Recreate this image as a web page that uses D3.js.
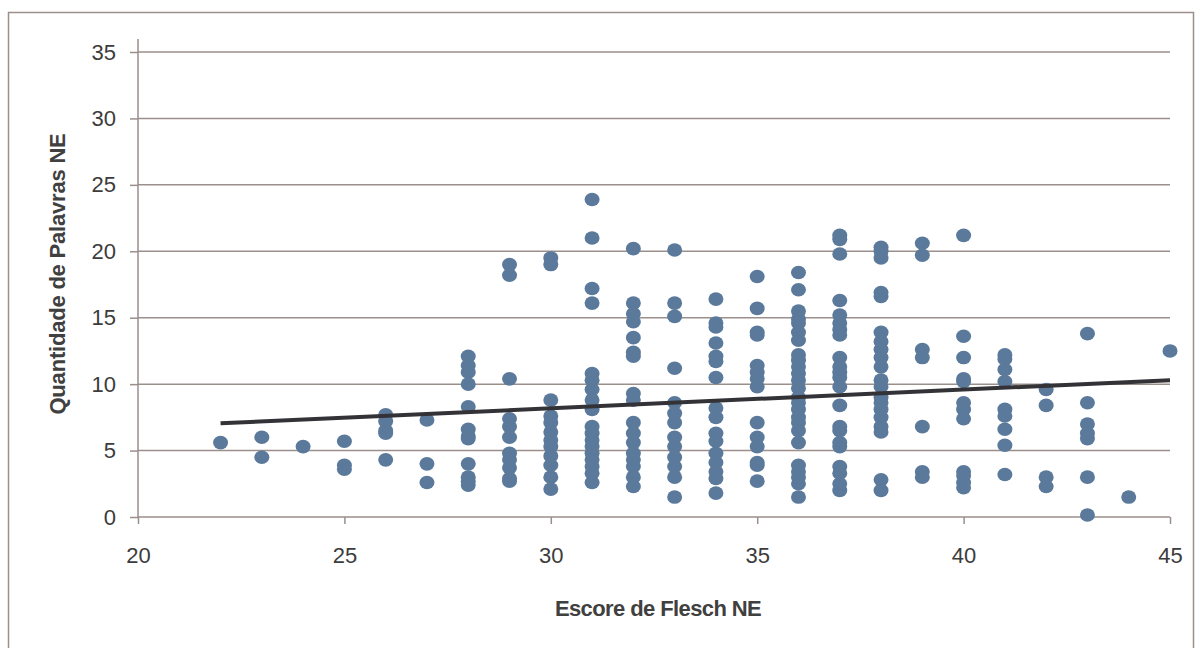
<!DOCTYPE html>
<html>
<head>
<meta charset="utf-8">
<script src="https://cdn.jsdelivr.net/npm/d3@7"></script>
<style>
    body { margin: 0; background: #fff; }
    svg { display: block; }
    .tick text { font-family: "Liberation Sans", Arial, sans-serif; font-size: 22px; fill: #3c3c3c; }
    .title { font-family: "Liberation Sans", Arial, sans-serif; font-size: 22px; font-weight: bold; fill: #404040; letter-spacing: -0.6px; }
</style>
</head>
<body>
<svg id="chart" width="1202" height="648"></svg>
<script>
// Escore de Flesch (x) e quantidade de palavras (y), uma coluna por escore
let scores = [22, 23, 24, 25, 26, 27, 28, 29, 30, 31, 32, 33, 34, 35, 36, 37, 38, 39, 40, 41, 42, 43, 44, 45];
let words = [
    [5.6],
    [6.0, 4.5],
    [5.3],
    [5.7, 3.9, 3.6],
    [7.7, 7.2, 6.5, 6.3, 4.3],
    [7.3, 4.0, 2.6],
    [12.1, 11.4, 10.9, 10.0, 8.3, 6.6, 6.1, 5.9, 4.0, 3.0, 2.7, 2.4],
    [19.0, 18.2, 10.4, 7.4, 6.8, 6.0, 4.8, 4.3, 3.7, 2.9, 2.7],
    [19.5, 19.0, 8.8, 7.6, 7.1, 6.4, 5.8, 5.3, 4.6, 3.9, 3.0, 2.1],
    [23.9, 21.0, 17.2, 16.1, 10.8, 10.3, 9.6, 8.8, 8.1, 6.8, 6.3, 5.8, 5.3, 4.8, 4.3, 3.8, 3.3, 2.6],
    [20.2, 16.1, 15.3, 14.7, 13.5, 12.4, 12.1, 9.3, 8.8, 7.1, 6.3, 5.6, 4.8, 4.3, 3.8, 3.0, 2.3],
    [20.1, 16.1, 15.1, 11.2, 8.6, 7.8, 7.1, 6.0, 5.3, 4.5, 3.8, 3.0, 1.5],
    [16.4, 14.6, 14.3, 13.1, 12.1, 11.7, 10.5, 8.2, 7.5, 6.3, 5.7, 4.8, 4.1, 3.4, 2.9, 1.8],
    [18.1, 15.7, 13.9, 13.7, 11.4, 10.9, 10.4, 9.8, 7.1, 6.0, 5.3, 4.1, 3.9, 2.7],
    [18.4, 17.1, 15.5, 14.9, 14.6, 13.9, 13.3, 12.2, 11.8, 11.3, 10.8, 10.3, 9.7, 9.0, 8.6, 8.1, 7.5, 7.1, 6.5, 5.6, 3.9, 3.4, 3.0, 2.5, 1.5],
    [21.2, 20.9, 19.8, 16.3, 15.2, 14.6, 14.1, 13.7, 12.0, 11.3, 10.9, 10.5, 9.8, 8.4, 6.8, 6.5, 5.6, 5.3, 3.8, 3.3, 2.5, 2.0],
    [20.3, 20.0, 19.5, 16.9, 16.6, 13.9, 13.2, 12.6, 12.0, 11.3, 10.3, 9.8, 9.0, 8.6, 8.1, 7.5, 6.8, 6.4, 2.8, 2.0],
    [20.6, 19.7, 12.6, 12.0, 6.8, 3.4, 3.0],
    [21.2, 13.6, 12.0, 10.4, 10.2, 8.6, 8.1, 7.4, 3.4, 3.1, 2.6, 2.2],
    [12.2, 11.9, 11.1, 10.2, 8.1, 7.6, 6.6, 5.4, 3.2],
    [9.6, 8.4, 3.0, 2.3],
    [13.8, 8.6, 7.0, 6.3, 5.9, 3.0, 0.15],
    [1.5],
    [12.5]
];
// linha de tendência: [escore, palavras]
let trend = [[22, 7.05], [45, 10.3]];
let xTicks = [20, 25, 30, 35, 40, 45];
let yTicks = [0, 5, 10, 15, 20, 25, 30, 35];

let points = [];
scores.forEach((s, i) => {
    words[i].forEach(w => points.push({ x: s, y: w }));
});

let svg = d3.select('#chart');
let axisColor = '#9b8f8c';

let x = d3.scaleLinear().domain([20, 45]).range([138, 1170]);
let y = d3.scaleLinear().domain([0, 35]).range([517, 52]);

// moldura
svg.append('rect')
    .attr('x', 8.5).attr('y', 12.5)
    .attr('width', 1185).attr('height', 640)
    .attr('fill', 'none')
    .attr('stroke', axisColor)
    .attr('stroke-width', 1.5);

// linhas de grade
svg.append('g')
    .selectAll('line')
    .data(yTicks.filter(t => t > 0))
    .enter()
    .append('line')
    .attr('x1', x(20)).attr('x2', x(45))
    .attr('y1', d => y(d)).attr('y2', d => y(d))
    .attr('stroke', axisColor)
    .attr('stroke-width', 1.5);

// eixo y
let yAxis = svg.append('g')
    .attr('transform', `translate(${x(20)},0)`)
    .call(d3.axisLeft(y).tickValues(yTicks).tickSize(8).tickPadding(14).tickSizeOuter(0));
yAxis.select('.domain').remove();
yAxis.append('line')
    .attr('x1', 0).attr('x2', 0)
    .attr('y1', 39).attr('y2', y(0))
    .attr('stroke', axisColor).attr('stroke-width', 1.5);

// eixo x
let xAxis = svg.append('g')
    .attr('transform', `translate(0,${y(0)})`)
    .call(d3.axisBottom(x).tickValues(xTicks).tickSize(7).tickPadding(23).tickSizeOuter(0));
xAxis.select('.domain')
    .attr('d', `M${x(20)},0H${x(45)}`);

svg.selectAll('.domain, .tick line')
    .attr('stroke', axisColor)
    .attr('stroke-width', 1.5);

// pontos
svg.append('g')
    .selectAll('ellipse')
    .data(points)
    .enter()
    .append('ellipse')
    .attr('cx', d => x(d.x))
    .attr('cy', d => y(d.y))
    .attr('rx', 7.5)
    .attr('ry', 6.8)
    .attr('fill', '#5b7a9b');

// tendência
svg.append('line')
    .attr('x1', x(trend[0][0])).attr('y1', y(trend[0][1]))
    .attr('x2', x(trend[1][0])).attr('y2', y(trend[1][1]))
    .attr('stroke', '#333337')
    .attr('stroke-width', 4);

// títulos
svg.append('text')
    .attr('class', 'title')
    .attr('x', 658).attr('y', 616)
    .attr('text-anchor', 'middle')
    .text('Escore de Flesch NE');

svg.append('text')
    .attr('class', 'title')
    .attr('transform', 'translate(65,274) rotate(-90)')
    .attr('text-anchor', 'middle')
    .style('letter-spacing', '-0.2px')
    .text('Quantidade de Palavras NE');
</script>
</body>
</html>
